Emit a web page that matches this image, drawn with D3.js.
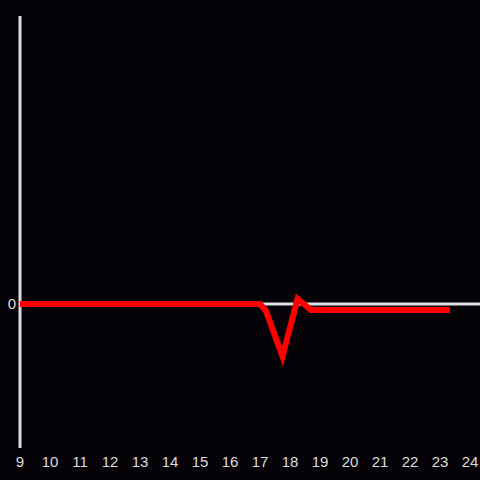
<!DOCTYPE html>
<html>
<head>
<meta charset="utf-8">
<script src="https://cdn.jsdelivr.net/npm/d3@7"></script>
<style>
  html, body { margin: 0; padding: 0; background: #050307; }
  svg { display: block; }
</style>
</head>
<body>
<figure id="chart" style="margin:0"></figure>
<script>
// hours of day and the measured value
const hours = [9, 17, 17.2, 17.75, 18.25, 18.7, 23.33];
const values = [0, 0, -0.024, -0.182, 0.018, -0.021, -0.021];
const xTicks = [9, 10, 11, 12, 13, 14, 15, 16, 17, 18, 19, 20, 21, 22, 23, 24];
const yTicks = [0];

const width = 480;
const height = 480;

const svg = d3.select("figure#chart")
  .append("svg")
  .attr("width", width)
  .attr("height", height)
  .style("background", "#050307");

const x = d3.scaleLinear().domain([9, 24]).range([20, 470]);
const y = d3.scaleLinear().domain([-0.5, 1]).range([448, 16]);

// left axis line
svg.append("line")
  .attr("x1", x(9)).attr("x2", x(9))
  .attr("y1", y(1)).attr("y2", y(-0.5))
  .attr("stroke", "#dddddd")
  .attr("stroke-width", 3);

// zero line
svg.append("line")
  .attr("x1", x(9)).attr("x2", width)
  .attr("y1", y(0)).attr("y2", y(0))
  .attr("stroke", "#dddddd")
  .attr("stroke-width", 3);

// x tick labels
svg.append("g")
  .selectAll("text")
  .data(xTicks)
  .enter()
  .append("text")
  .attr("x", d => x(d))
  .attr("y", 467)
  .attr("text-anchor", "middle")
  .attr("fill", "#dcdcdc")
  .style("font-family", "'Liberation Sans', Arial, sans-serif")
  .style("font-size", "15px")
  .text(d => d);

// y tick labels
svg.append("g")
  .selectAll("text")
  .data(yTicks)
  .enter()
  .append("text")
  .attr("x", x(9) - 4)
  .attr("y", d => y(d))
  .attr("dy", "0.35em")
  .attr("text-anchor", "end")
  .attr("fill", "#dcdcdc")
  .style("font-family", "'Liberation Sans', Arial, sans-serif")
  .style("font-size", "15px")
  .text(d => d);

const line = d3.line()
  .x((d, i) => x(hours[i]))
  .y(d => y(d));

svg.append("path")
  .datum(values)
  .attr("d", line)
  .attr("fill", "none")
  .attr("stroke", "#ff0000")
  .attr("stroke-width", 6)
  .attr("stroke-linejoin", "miter");
</script>
</body>
</html>
